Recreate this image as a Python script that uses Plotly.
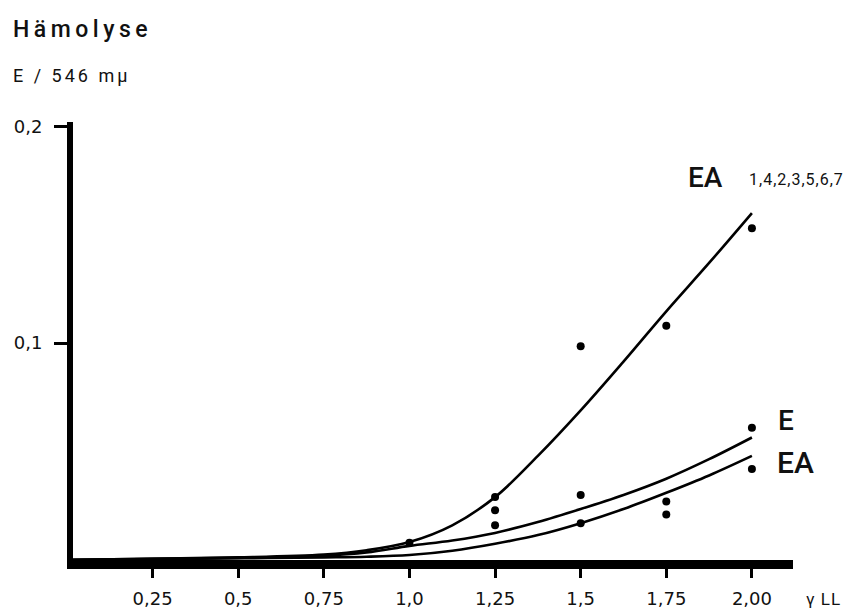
import plotly.graph_objects as go

# Dose (gamma LL) grid for the fitted curves
x_curve = [0.0, 0.25, 0.5, 0.75, 0.875, 1.0, 1.125, 1.25, 1.375, 1.5, 1.625, 1.75, 1.875, 2.0]
# Fitted hemolysis curves (extinction at 546 mµ)
ea_mix_curve = [0.0, 0.0006, 0.0012, 0.0025, 0.0045, 0.0083, 0.016, 0.029, 0.048, 0.069, 0.0915, 0.1147, 0.137, 0.160]
e_curve = [0.0, 0.0005, 0.001, 0.002, 0.0035, 0.0065, 0.009, 0.0125, 0.0175, 0.0235, 0.030, 0.0375, 0.0465, 0.0565]
ea_curve = [0.0, 0.0004, 0.0008, 0.0012, 0.0015, 0.0023, 0.0043, 0.0075, 0.0115, 0.017, 0.0235, 0.031, 0.039, 0.048]

# Measured values
dose_points = [1.0, 1.25, 1.25, 1.25, 1.5, 1.5, 1.5, 1.75, 1.75, 1.75, 2.0, 2.0, 2.0]
ext_points = [0.008, 0.029, 0.023, 0.016, 0.0986, 0.030, 0.017, 0.108, 0.027, 0.021, 0.153, 0.061, 0.042]

x_ticks = [0.25, 0.5, 0.75, 1.0, 1.25, 1.5, 1.75, 2.0]
x_tick_labels = ["0,25", "0,5", "0,75", "1,0", "1,25", "1,5", "1,75", "2,00"]
y_ticks = [0.1, 0.2]
y_tick_labels = ["0,1", "0,2"]

W, H = 847, 615
ML, MR, MT, MB = 73, 54, 122, 55
PW, PH = W - ML - MR, H - MT - MB
X0 = 6 / 342.5  # the y-axis stroke covers the first few pixels right of x = 0


def px(x):
    return (x - ML) / PW


def py(y):
    return (H - MB - y) / PH


FONT = "DejaVu Sans, Arial, sans-serif"
LABEL_FONT = "Roboto, DejaVu Sans, sans-serif"
INK = "#111111"

fig = go.Figure()
line_style = dict(color="black", width=2.6, shape="spline", smoothing=1.0)
for ys in (ea_mix_curve, e_curve, ea_curve):
    fig.add_trace(go.Scatter(x=x_curve, y=ys, mode="lines", line=line_style,
                             hoverinfo="skip", showlegend=False))

fig.add_trace(go.Scatter(x=dose_points, y=ext_points, mode="markers",
                         marker=dict(color="black", size=8),
                         showlegend=False))

ann = []


def label(text, x, y, size, family=LABEL_FONT, weight=500):
    ann.append(dict(text=text, x=px(x), y=py(y), xref="paper", yref="paper",
                    xanchor="left", yanchor="middle", showarrow=False,
                    font=dict(family=family, size=size, color=INK, weight=weight)))


label('<span style="letter-spacing:4.5px">Hämolyse</span>', 11, 29, 23)
label('<span style="letter-spacing:3px">E / 546 mµ</span>', 11, 76, 18, weight=400)
label("EA", 686, 177, 28)
label('<span style="letter-spacing:1px">1,4,2,3,5,6,7</span>', 747, 179, 16, weight=400)
label("E", 776, 420, 28)
label("EA", 775, 462, 30)
label('<span style="letter-spacing:1px">γ LL</span>', 804, 599, 17, weight=400)

fig.update_layout(
    width=W, height=H,
    margin=dict(l=ML, r=MR, t=MT, b=MB, autoexpand=False),
    paper_bgcolor="white", plot_bgcolor="white",
    annotations=ann,
    xaxis=dict(range=[X0, 2.12], showgrid=False, zeroline=False,
               showline=True, linecolor="black", linewidth=9,
               tickmode="array", tickvals=x_ticks, ticktext=x_tick_labels,
               ticks="outside", ticklen=9, tickwidth=2.5, tickcolor="black",
               ticklabelstandoff=5, automargin=False,
               tickfont=dict(family=FONT, size=18, color=INK)),
    yaxis=dict(range=[0, 0.202], showgrid=False, zeroline=False,
               showline=True, linecolor="black", linewidth=6,
               tickmode="array", tickvals=y_ticks, ticktext=y_tick_labels,
               ticks="outside", ticklen=13, tickwidth=2.5, tickcolor="black",
               ticklabelstandoff=8, automargin=False,
               tickfont=dict(family=FONT, size=18, color=INK)),
)

fig.write_html("out.html")
